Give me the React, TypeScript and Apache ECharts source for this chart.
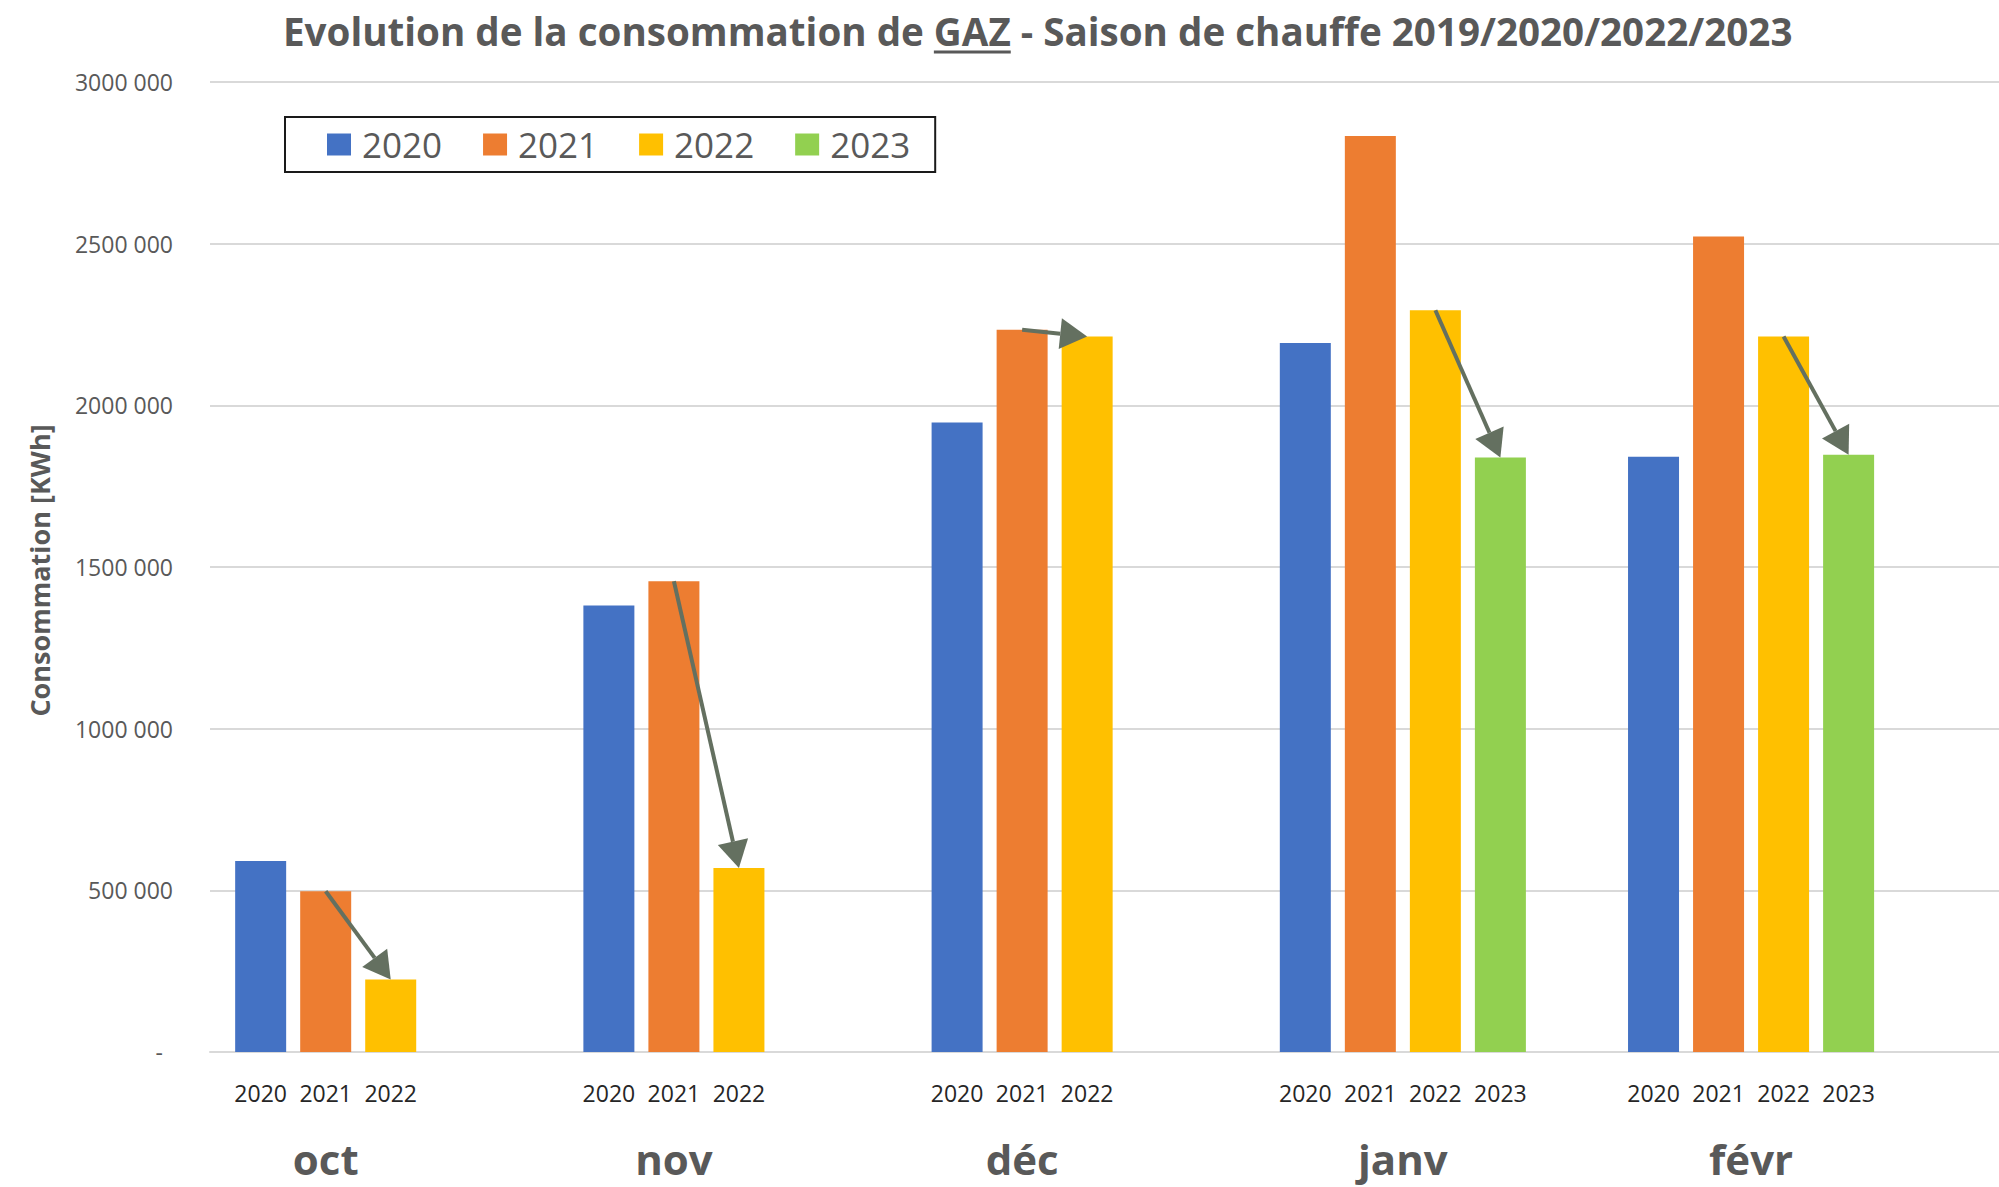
import React, { useEffect, useRef } from 'react';
import * as echarts from 'echarts';

// ---- data ----
const months = ['oct', 'nov', 'déc', 'janv', 'févr'];
const seriesNames = ['2020', '2021', '2022', '2023'];
const values2020 = [591000, 1381000, 1947000, 2193000, 1841000];
const values2021 = [497000, 1456000, 2234000, 2833000, 2522000];
const values2022 = [224000, 569000, 2213000, 2294000, 2213000];
const values2023 = [null, null, null, 1839000, 1847000];
const seriesValues = [values2020, values2021, values2022, values2023];
const arrows = [
  { month: 'oct', from: '2021', to: '2022' },
  { month: 'nov', from: '2021', to: '2022' },
  { month: 'déc', from: '2021', to: '2022' },
  { month: 'janv', from: '2022', to: '2023' },
  { month: 'févr', from: '2022', to: '2023' },
];
const titlePre = 'Evolution de la consommation de ';
const titleKey = 'GAZ';
const titlePost = ' - Saison de chauffe 2019/2020/2022/2023';
const yAxisName = 'Consommation [KWh]';
const yMax = 3000000;
const yStep = 500000;

// ---- style ----
const FONT = '"Open Sans", "Noto Sans", sans-serif';
const COLORS = ['#4472C4', '#ED7D31', '#FFC000', '#92D050'];
const GRAY = '#595959';
const GRID_COLOR = '#d9d9d9';
const ARROW_COLOR = '#647060';
const BAR_WIDTH = 51;
const BAR_GAP = 0.275;
const PITCH = BAR_WIDTH * (1 + BAR_GAP);
const HEAD_LEN = 27;
const HEAD_W = 31;
const TITLE_SIZE = 38.6;
const TITLE_LEFT = 283;
const TITLE_TOP = 11;
const X_MIN = -0.4256;
const X_MAX = 4.712;

function fmtY(v: number): string {
  if (v === 0) return '{d|-}';
  const th = Math.floor(v / 1000);
  const rest = String(v % 1000).padStart(3, '0');
  return `${th} ${rest}`;
}

export default function App() {
  const ref = useRef<HTMLDivElement>(null);
  useEffect(() => {
    if (!ref.current) return;
    const chart = echarts.init(ref.current, undefined, { renderer: 'svg' });

    const canvas = document.createElement('canvas');
    const ctx = canvas.getContext('2d')!;
    ctx.font = `bold ${TITLE_SIZE}px "Open Sans"`;
    const preW = ctx.measureText(titlePre).width;
    const keyW = ctx.measureText(titleKey).width;

    const nS = seriesNames.length;
    const barSeries = seriesNames.map((name, s) => ({
      type: 'bar',
      name,
      barWidth: BAR_WIDTH,
      barGap: `${BAR_GAP * 100}%`,
      itemStyle: { color: COLORS[s] },
      label: {
        show: true,
        position: 'bottom',
        distance: 29,
        formatter: '{a}',
        color: '#262626',
        fontSize: 23,
        fontFamily: FONT,
      },
      data: seriesValues[s]
        .map((v, i) => (v == null ? null : [i, v]))
        .filter((d) => d !== null),
    }));

    const arrowData = arrows.map((a) => {
      const m = months.indexOf(a.month);
      const fi = seriesNames.indexOf(a.from);
      const ti = seriesNames.indexOf(a.to);
      return [m, seriesValues[fi][m], seriesValues[ti][m], fi, ti];
    });

    const option: any = {
      animation: false,
      backgroundColor: '#ffffff',
      textStyle: { fontFamily: FONT },
      title: {
        left: TITLE_LEFT,
        top: TITLE_TOP,
        padding: 0,
        text: `{t|${titlePre}}{t|${titleKey}}{t|${titlePost}}`,
        textStyle: {
          rich: {
            t: { fontFamily: FONT, fontSize: TITLE_SIZE, fontWeight: 'bold', color: GRAY },
          },
        },
      },
      graphic: [
        {
          type: 'rect',
          shape: { x: TITLE_LEFT + preW, y: TITLE_TOP + TITLE_SIZE + 1, width: keyW, height: 3 },
          style: { fill: GRAY },
        },
      ],
      legend: {
        data: seriesNames,
        left: 285,
        top: 117,
        orient: 'horizontal',
        icon: 'rect',
        itemWidth: 24,
        itemHeight: 22,
        itemGap: 41,
        padding: [10, 25, 10, 42],
        borderColor: '#1a1a1a',
        borderWidth: 2,
        backgroundColor: '#ffffff',
        textStyle: { fontFamily: FONT, fontSize: 35, color: GRAY, padding: [0, 0, 0, 6] },
      },
      grid: { left: 210, right: 0, top: 82, bottom: 135, containLabel: false },
      xAxis: {
        type: 'value',
        min: X_MIN,
        max: X_MAX,
        splitLine: { show: false },
        axisTick: { show: false },
        axisLine: { show: true, lineStyle: { color: GRID_COLOR, width: 2 } },
        axisLabel: {
          customValues: months.map((_, i) => i),
          margin: 88,
          formatter: (v: number) => {
            const i = Math.round(v);
            const name = months[i];
            const full = values2023[i] != null;
            return full ? `{n|${name}}` : `{s|${name}}`;
          },
          rich: {
            n: { fontFamily: FONT, fontSize: 42, lineHeight: 36, fontWeight: 'bold', color: GRAY },
            s: {
              fontFamily: FONT,
              fontSize: 42,
              lineHeight: 36,
              fontWeight: 'bold',
              color: GRAY,
              padding: [0, PITCH, 0, 0],
            },
          },
        },
      },
      yAxis: {
        type: 'value',
        min: 0,
        max: yMax,
        interval: yStep,
        axisLine: { show: false },
        axisTick: { show: false },
        splitLine: { lineStyle: { color: GRID_COLOR, width: 2 } },
        axisLabel: {
          margin: 37,
          fontFamily: FONT,
          fontSize: 23,
          color: GRAY,
          formatter: fmtY,
          rich: { d: { fontFamily: FONT, fontSize: 23, color: GRAY, padding: [0, 10, 0, 0] } },
        },
        name: yAxisName,
        nameLocation: 'middle',
        nameGap: 157,
        nameTextStyle: {
          fontFamily: FONT,
          fontSize: 27,
          fontWeight: 'bold',
          color: GRAY,
          padding: [0, 7, 0, 0],
        },
      },
      series: [
        ...barSeries,
        {
          type: 'custom',
          name: 'arrows',
          z: 10,
          silent: true,
          data: arrowData,
          encode: { x: 0, y: [1, 2] },
          renderItem: (params: any, api: any) => {
            const m = api.value(0);
            const v0 = api.value(1);
            const v1 = api.value(2);
            const fi = api.value(3);
            const ti = api.value(4);
            const a = api.coord([m, v0]);
            const b = api.coord([m, v1]);
            const x0 = a[0] + (fi - (nS - 1) / 2) * PITCH;
            const y0 = a[1];
            const x1 = b[0] + (ti - (nS - 1) / 2) * PITCH;
            const y1 = b[1];
            const dx = x1 - x0;
            const dy = y1 - y0;
            const len = Math.hypot(dx, dy) || 1;
            const ux = dx / len;
            const uy = dy / len;
            const nx = -uy;
            const ny = ux;
            const bx = x1 - ux * HEAD_LEN;
            const by = y1 - uy * HEAD_LEN;
            return {
              type: 'group',
              children: [
                {
                  type: 'line',
                  shape: { x1: x0, y1: y0, x2: bx, y2: by },
                  style: { stroke: ARROW_COLOR, lineWidth: 4 },
                },
                {
                  type: 'polygon',
                  shape: {
                    points: [
                      [x1, y1],
                      [bx + (nx * HEAD_W) / 2, by + (ny * HEAD_W) / 2],
                      [bx - (nx * HEAD_W) / 2, by - (ny * HEAD_W) / 2],
                    ],
                  },
                  style: { fill: ARROW_COLOR },
                },
              ],
            };
          },
        },
      ],
    };
    chart.setOption(option);
    return () => chart.dispose();
  }, []);
  return (
    <div
      ref={ref}
      style={{ position: 'fixed', left: 0, top: 0, width: 1999, height: 1187, background: '#fff' }}
    />
  );
}
